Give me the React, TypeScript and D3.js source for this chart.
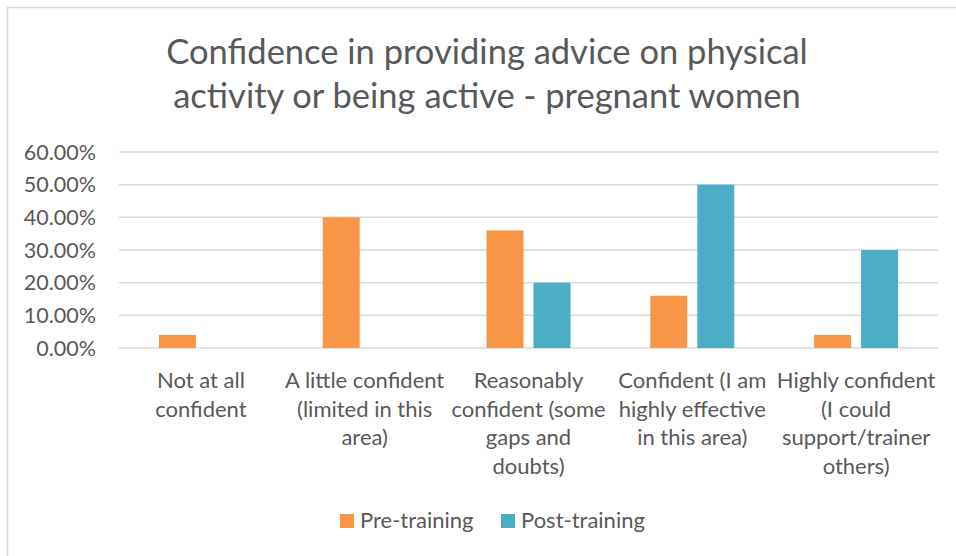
import React from "react";
import * as d3 from "d3";

const categories: string[][] = [
  ["Not at all", "confident"],
  ["A little confident", "(limited in this", "area)"],
  ["Reasonably", "confident (some", "gaps and", "doubts)"],
  ["Confident (I am", "highly effective", "in this area)"],
  ["Highly confident", "(I could", "support/trainer", "others)"],
];
const seriesNames = ["Pre-training", "Post-training"];
const preTraining = [0.04, 0.4, 0.36, 0.16, 0.04];
const postTraining = [0, 0, 0.2, 0.5, 0.3];
const yTicks = [0, 0.1, 0.2, 0.3, 0.4, 0.5, 0.6];
const titleLines = [
  "Confidence in providing advice on physical",
  "activity or being active - pregnant women",
];
const colors = ["#F79646", "#4BACC6"];

const W = 956;
const H = 556;
const FONT = "Lato, 'Open Sans', sans-serif";
const TEXT = "#595959";

export default function App() {
  const left = 119;
  const right = 938;
  const top = 152;
  const bottom = 348;

  const x0 = d3
    .scaleBand<number>()
    .domain(categories.map((_, i) => i))
    .range([left, right])
    .padding(0);
  const x1 = d3
    .scaleBand<string>()
    .domain(seriesNames)
    .range([0, x0.bandwidth()])
    .paddingInner(0.213)
    .paddingOuter(0.85);
  const y = d3.scaleLinear().domain([0, 0.6]).range([bottom, top]);
  const fmt = d3.format(".2%");
  const series = [preTraining, postTraining];

  return (
    <svg
      width={W}
      height={H}
      style={{ position: "absolute", left: 0, top: 0, background: "#fff" }}
      fontFamily={FONT}
    >
      <rect x={7.5} y={7.5} width={W + 20} height={H + 20} fill="#fff" stroke="#d9d9d9" strokeWidth={1.5} />
      {titleLines.map((t, i) => (
        <text key={i} x={487} y={64 + i * 44} textAnchor="middle" fontSize={34.5} fill={TEXT}>
          {t}
        </text>
      ))}
      {yTicks.map((t) => (
        <g key={t}>
          <line x1={left} x2={right} y1={y(t)} y2={y(t)} stroke="#d9d9d9" strokeWidth={1.5} />
          <text x={96} y={y(t) + 7.5} textAnchor="end" fontSize={21.5} fill={TEXT}>
            {fmt(t)}
          </text>
        </g>
      ))}
      {categories.map((_, ci) =>
        series.map((vals, si) =>
          vals[ci] > 0 ? (
            <rect
              key={`${ci}-${si}`}
              x={(x0(ci) ?? 0) + (x1(seriesNames[si]) ?? 0)}
              y={y(vals[ci])}
              width={x1.bandwidth()}
              height={y(0) - y(vals[ci])}
              fill={colors[si]}
            />
          ) : null
        )
      )}
      {categories.map((lines, ci) => (
        <text
          key={ci}
          x={(x0(ci) ?? 0) + x0.bandwidth() / 2}
          textAnchor="middle"
          fontSize={22}
          fill={TEXT}
        >
          {lines.map((l, li) => (
            <tspan key={li} x={(x0(ci) ?? 0) + x0.bandwidth() / 2} y={388 + li * 28.7}>
              {l}
            </tspan>
          ))}
        </text>
      ))}
      {seriesNames.map((s, si) => {
        const lx = si === 0 ? 340 : 501;
        return (
          <g key={s}>
            <rect x={lx} y={514} width={14} height={14} fill={colors[si]} />
            <text x={lx + 20} y={528} fontSize={22} fill={TEXT}>
              {s}
            </text>
          </g>
        );
      })}
    </svg>
  );
}
